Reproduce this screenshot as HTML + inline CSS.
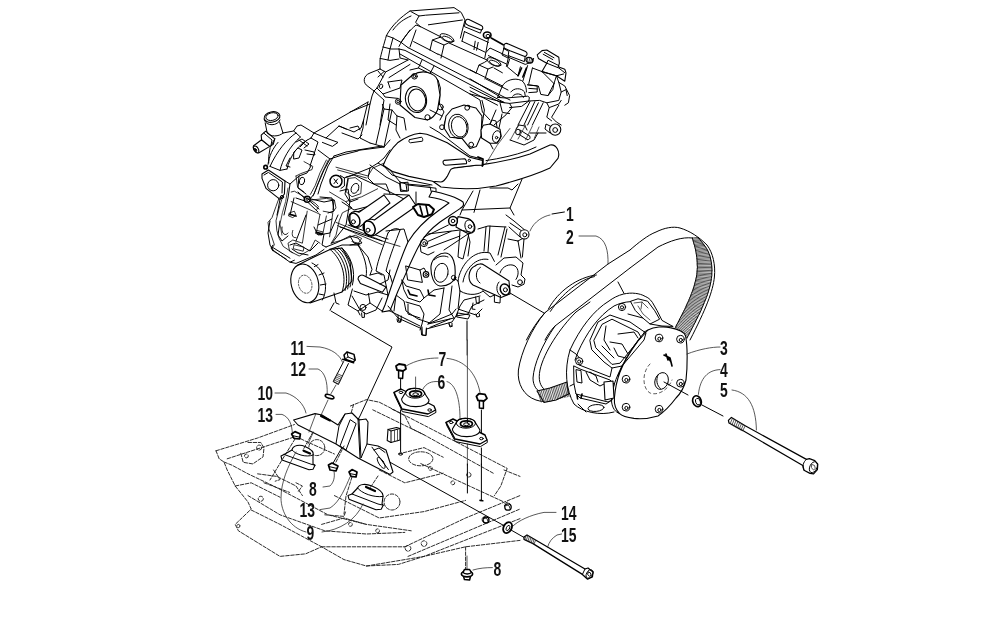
<!DOCTYPE html>
<html><head><meta charset="utf-8">
<style>
html,body{margin:0;padding:0;background:#fff;}
body{width:1000px;height:625px;overflow:hidden;font-family:"Liberation Sans",sans-serif;}
svg{display:block;position:absolute;left:0;top:0;}
.k path,.k polyline,.k line,.k circle,.k ellipse,.k rect,.k polygon{fill:none;stroke:#000;stroke-width:1.0;vector-effect:non-scaling-stroke;stroke-linecap:round;stroke-linejoin:round;}
.k .w{fill:#fff;stroke-width:1.1;}
.k .b{fill:#111;}
.k .thin path{stroke-width:0.8;}
.k .t{stroke-width:0.75;stroke:#222;}
.k .d{stroke:#222;stroke-width:0.95;stroke-dasharray:3.5 1.6;}
text{font-family:"Liberation Sans",sans-serif;font-weight:bold;font-size:20.5px;fill:#111;}
</style></head><body>
<svg class="k" width="1000" height="625" viewBox="0 0 1000 625">
<rect x="0" y="0" width="1000" height="625" style="fill:#fff;stroke:none"/>
<g transform="translate(350,0) scale(0.2)">
<!-- valve cover top-left box -->
<path d="M300,55 C255,85 210,125 182,178"/>
<path d="M300,55 L520,38 L556,62 L575,100 L562,150 L552,190"/>
<path d="M305,58 L345,80 L378,76 L545,64"/>
<path d="M392,124 L562,100"/>
<path d="M345,80 L328,112 L352,133"/>
<path d="M215,150 C240,115 270,95 305,80"/>
<path d="M182,178 L215,190 L255,212 L290,238"/>
<path d="M182,178 C170,220 155,270 150,300 L150,345"/>
<path d="M165,235 L205,245 L245,245"/>
<path d="M150,292 L200,302 L245,295"/>
<path d="M215,190 L200,245 L190,300"/>
<path d="M245,232 C265,190 300,150 330,125 L352,133"/>
<path d="M255,212 L300,150"/>
<!-- ridge lines -->
<path d="M352,133 L455,185"/>
<path d="M330,150 L300,235"/>
<path d="M318,208 L400,250"/>
<path d="M290,238 L760,480 L800,500"/>
<path d="M245,245 L275,252 L770,512"/>
<path d="M250,270 L600,470"/>
<path d="M245,245 L250,290 L290,300"/>
<!-- first cap block -->
<path d="M400,250 L412,200 L440,190 L455,185"/>
<path d="M412,200 L470,225 L455,290"/>
<path d="M470,225 L492,215"/>
<path d="M400,250 L440,272"/>
<ellipse cx="485" cy="190" rx="38" ry="16" transform="rotate(25 485 190)"/>
<ellipse cx="488" cy="196" rx="28" ry="10" transform="rotate(25 488 196)"/>
<path d="M495,215 L685,300"/>
<path d="M440,270 L630,365"/>
<!-- second cap block -->
<path d="M630,365 L645,325 L690,345 L675,395"/>
<path d="M645,325 L672,312 L690,300"/>
<path d="M690,345 L715,335"/>
<ellipse cx="720" cy="310" rx="38" ry="16" transform="rotate(25 720 310)"/>
<ellipse cx="723" cy="316" rx="28" ry="10" transform="rotate(25 723 316)"/>
<path d="M680,395 L790,450"/>
<!-- end cap -->
<!-- coil caps -->
<path class="w" d="M578,104 C582,94 592,94 600,100 L656,128 C668,134 666,148 655,150 L592,127 C578,122 574,112 578,104 Z"/>
<path d="M575,118 L572,133 L652,166 L658,150"/>
<path d="M572,158 L560,206"/>
<path d="M626,206 L620,248 M641,212 L633,251"/>
<path d="M572,158 L692,212"/>
<path d="M560,206 L674,260"/>
<path d="M692,194 L674,290"/>
<ellipse cx="686" cy="176" rx="19" ry="16" style="stroke-width:1.6"/>
<ellipse cx="690" cy="180" rx="10" ry="8"/>
<path d="M706,190 L766,224" style="stroke-width:1.6"/>
<path class="w" d="M770,227 C772,216 782,214 792,220 L878,257 C890,264 886,282 874,282 L800,254 L770,240 Z"/>
<path d="M767,242 L794,257 L791,278 L872,308 L876,282"/>
<path d="M770,240 L760,275 L790,290"/>
<path d="M794,278 L782,332"/>
<path d="M692,278 L782,320"/>
<path d="M680,262 L700,240 L790,282"/>
<!-- left boss & head -->
<path d="M150,345 L100,365 C65,378 62,415 90,432 L120,455 L110,480 L100,520 L85,600 L80,625"/>
<ellipse cx="155" cy="432" rx="8" ry="12" transform="rotate(20 155 432)"/>
<path d="M150,345 L178,360 L135,440 L120,455"/>
<path d="M140,355 L165,385 M170,358 L140,385"/>
<path d="M178,360 L290,300"/>
<path d="M195,388 L300,322"/>
<path d="M135,440 L165,470 L250,440 L260,400 L190,410"/>
<path d="M165,470 L175,485 L240,492"/>
<path d="M190,410 L200,440"/>
<circle cx="590" cy="540" r="14"/>
<circle cx="452" cy="535" r="14"/>
<path d="M300,350 L342,340 L400,368 L440,400 L452,440 L447,520"/>
<path d="M342,340 L360,300"/>
<path d="M400,368 L420,330"/>
<path d="M600,470 L650,500 L662,560 L700,600"/>
<path d="M490,605 C500,575 540,555 575,560 C600,565 615,585 620,610"/>
<path d="M470,625 C475,580 520,540 570,540 C610,540 640,570 650,610"/>
<path d="M447,520 L470,560 L450,600"/>
<path d="M100,520 L0,560"/>
<path d="M120,455 L170,500 L160,560 L150,625"/>
<path d="M200,520 L190,600 L230,625"/>
<path d="M600,470 L770,512"/>
</g>
<g>
<path class="w" d="M401,85 L412.5,75 C418,72 424,71.5 427.5,72.5 C433,74 436.5,77 437.5,80 L440,95 L437.5,110 C435,116 431,119 427.5,120 L415,117.5 L400,105 Z"/>
<ellipse cx="416" cy="99.5" rx="10.5" ry="13.2" transform="rotate(-12 416 99.5)"/>
<ellipse cx="417" cy="100" rx="8.6" ry="11" transform="rotate(-12 417 100)"/>
<circle cx="414.5" cy="76.3" r="2.8"/><circle cx="398.2" cy="101.5" r="2.8"/><circle cx="427.5" cy="117.3" r="2.6"/>
<circle cx="414.5" cy="76.3" r="1.3"/><circle cx="398.2" cy="101.5" r="1.3"/>
</g>
<g transform="translate(470,50) scale(0.12)">
<!-- end cap of valve cover -->
<path d="M0,165 L270,300"/>
<path d="M270,300 C290,255 370,225 430,255 C460,275 472,320 470,350"/>
<path d="M340,350 C365,315 425,312 455,350 L460,380"/>
<path d="M355,385 C380,355 432,360 445,395"/>
<path d="M230,395 L300,400 L480,385 L495,395 L490,425 L330,445 L250,435"/>
<path d="M270,300 L230,395"/>
<path d="M0,310 L240,430 M0,340 L230,460"/>
<path d="M0,240 L250,390"/>
<path d="M200,150 L270,190"/>
<!-- coil cap 2 -->
<path d="M320,60 L460,120 L520,100 L530,70"/>
<path d="M330,75 L310,140 L400,215 L420,140"/>
<path d="M400,215 L430,150 M440,225 L470,150" style="stroke-width:1.6"/>
<ellipse cx="495" cy="85" rx="30" ry="22" transform="rotate(20 495 85)" style="stroke-width:1.3"/>
<path class="t" d="M482,70 L474,98 M498,70 L490,104 M512,76 L506,104"/>
<path d="M480,130 L440,260 M520,150 L490,280"/>
<!-- connector -->
<path class="w" d="M560,40 L600,5 L640,0 L740,60 L745,110 L735,140 L790,160 L800,190 L790,260 L720,215 L600,180 L640,110 L570,70 Z"/>
<path d="M640,110 L650,85 L740,130"/>
<path d="M640,110 L740,150 L790,190"/>
<path d="M620,20 L700,65 M610,35 L690,80" />
<path d="M520,150 L600,180 L700,280 L650,380 L590,370 L570,300 L480,290"/>
<path d="M600,180 L720,215 L780,200"/>
<path d="M720,215 L700,280"/>
<path d="M720,215 L740,270 L790,300 L830,380 L820,440 L790,460"/>
<path d="M480,290 L560,300 L560,350 L490,355 M490,320 L560,325"/>
<path d="M740,270 L760,350 L740,420 L640,440 L580,420 L490,425"/>
<path d="M640,440 L660,480 L740,450 L760,420"/>
<path d="M760,350 L800,330 L810,380"/>
<path d="M650,380 L690,330 L700,280"/>
<!-- column lines -->
<path d="M500,430 L400,625 M540,430 L450,625 M570,440 L480,625 M610,440 L520,625"/>
<path d="M740,460 L680,560 L720,600 L760,625"/>
<path d="M660,480 L640,560 L680,590"/>
<path d="M100,420 L120,500 L100,625"/>
<path d="M250,440 L270,520 L330,530"/>
<path d="M0,480 L60,500 L100,560"/>
<path d="M330,445 L350,480 L300,540 L200,625"/>
<path d="M490,425 L430,470 L330,480"/>
</g>
<g transform="translate(230,90) scale(0.2)">
<!-- thermostat outlet -->
<ellipse class="w" cx="210" cy="135" rx="40" ry="26" transform="rotate(-12 210 135)"/>
<ellipse cx="210" cy="133" rx="31" ry="19" transform="rotate(-12 210 133)"/>
<path d="M171,148 C180,185 240,180 250,150"/>
<path d="M176,165 L186,215 M248,160 L265,215"/>
<path class="w" d="M158,249 L118,279 C112,290 125,312 143,315 L199,282 Z"/>
<ellipse class="w" cx="130.6" cy="297" rx="11" ry="19" transform="rotate(-32 130.6 297)"/>
<ellipse cx="127" cy="300" rx="5" ry="9" transform="rotate(-32 127 300)" class="b"/>
<path class="w" d="M156,226 L178.5,206 L224,244 L216,272 L199,282 L158,249 Z"/>
<path d="M170,216 L210,250 L205,276"/>
<path d="M224,244 L201,287 L193.6,332 L193.6,365"/>
<path d="M265,215 L318,205 L335,180 L355,175 L420,215 L405,240"/>
<path d="M186,215 C200,235 245,235 265,215"/>
<path d="M420,215 L690,60"/>
<path d="M330,215 C285,245 235,305 200,382"/>
<path d="M352,235 C295,285 262,350 250,402"/>
<path d="M405,240 C340,270 300,330 285,395"/>
<path d="M240,262 C215,290 195,330 190,372"/>
<path d="M318,205 L330,215 L352,235"/>
<path d="M330,260 L360,245 L395,270 L370,290 M345,250 L385,280 M385,250 L350,285"/>
<path d="M320,310 L340,290 L360,300 L345,340 L320,345 Z"/>
<path d="M300,340 L280,380 L300,385"/>
<path d="M375,300 L420,310 L425,325 L385,320"/>
<!-- flange -->
<path class="w" d="M160,420 L192,400 L275,455 L272,520 L250,547 L180,492 L160,442 Z"/>
<path d="M170,425 L192,412 L262,460 L260,515"/>
<circle cx="216" cy="476" r="28"/>
<circle cx="260" cy="535" r="8"/>
<circle cx="178" cy="386" r="9" style="stroke-width:1.6"/>
<path d="M200,382 L250,402 L285,395"/>
<path d="M250,547 L240,600 L235,625"/>
<path d="M275,455 L300,470 L290,540 L270,625"/>
<path d="M300,470 L345,430 L385,415 L405,380"/>
<path d="M320,540 L300,625"/>
<!-- top cover lines -->
<path d="M420,215 L480,240 L545,180 L582,196"/>
<path d="M480,240 L540,262 L512,282 L462,262"/>
<path d="M545,180 L620,210 L655,190 L668,150"/>
<path d="M560,215 L640,245 L660,225"/>
<path d="M600,190 L640,180 L650,200"/>
<path d="M690,60 L668,150 L665,190 L650,240 L700,265"/>
<path d="M770,95 L730,270 M810,100 L770,285"/>
<path d="M762,72 L770,95 L810,100 L835,130 L870,140 L880,200"/>
<path d="M640,302 L770,285 L800,250"/>
<path d="M520,330 L580,310 L760,280"/>
<path d="M500,345 L560,325 L640,305"/>
<path d="M500,345 L470,400 L440,470 L420,520 L400,545"/>
<path d="M520,330 L490,380 L455,470 L440,520"/>
<path d="M405,240 L440,260 L400,380"/>
<path d="M440,300 L500,345"/>
<!-- bolt -->
<circle cx="530" cy="456" r="30" style="stroke-width:1.5"/>
<path d="M552,428 L572,440 L572,480 L555,492"/>
<path d="M520,445 L538,468 M538,445 L520,468"/>
<path d="M572,440 L600,430 L700,390"/>
<ellipse cx="360" cy="455" rx="13" ry="19" transform="rotate(15 360 455)"/>
<ellipse cx="625" cy="492" rx="18" ry="26" transform="rotate(25 625 492)"/>
<path d="M590,440 L575,520 L600,560 L640,545"/>
<path d="M345,430 L340,490 L380,520"/>
<!-- sensor -->
<circle cx="386" cy="546" r="15" style="stroke-width:1.5"/>
<circle cx="386" cy="546" r="6"/>
<path d="M398,555 L445,595 M390,562 L440,610 M405,545 L470,560 L520,550 L515,600"/>
<path d="M372,540 L340,510 M375,555 L330,540"/>
<!-- shield / right -->
<path d="M700,390 L740,365 L800,400 L850,460 L880,470 L1000,480"/>
<path d="M800,300 L770,340 L740,365"/>
<path d="M700,265 L770,285"/>
<path d="M850,460 L855,500 L885,505 L880,470"/>
<path d="M700,390 L690,440 L720,470 L780,470 L800,520"/>
<path d="M560,560 L620,600 L700,580 L780,560"/>
<path d="M600,625 L660,600 L720,610"/>
<path d="M835,130 L830,200 L850,240"/>
</g>
<g transform="translate(430,90) scale(0.2)">
<!-- column dashed lines -->
<path d="M0,100 L60,130"/>
<path d="M0,185 L50,215 L200,330 L260,345"/>
<path d="M0,232 L150,332"/>
<path d="M330,100 L300,170"/>
<path d="M360,120 L345,190"/>
<!-- port 2 flange -->
<path class="w" d="M80,130 L110,95 L170,75 L230,90 L260,130 L255,230 L232,282 L200,292 L160,242 L100,236 L70,190 Z"/>
<ellipse cx="142" cy="182" rx="48" ry="62" transform="rotate(-15 142 182)"/>
<ellipse cx="146" cy="184" rx="38" ry="52" transform="rotate(-15 146 184)"/>
<circle cx="186" cy="89" r="12"/>
<circle cx="60" cy="186" r="12"/>
<circle cx="206" cy="273" r="12"/>
<!-- sensor cyl -->
<path class="w" d="M255,200 L266,176 L300,170 L350,196 L356,232 L336,266 L300,266 L258,240 Z"/>
<ellipse cx="333" cy="233" rx="20" ry="30" transform="rotate(15 333 233)"/>
<circle cx="333" cy="238" r="6"/>
<path d="M300,170 L310,150 L330,155 L335,185"/>
<path d="M300,266 L315,295"/>
<!-- right bolt -->
<circle class="w" cx="626" cy="198" r="28"/>
<circle cx="626" cy="200" r="12"/>
<path d="M600,180 L580,170 L575,195 L600,215"/>
<ellipse cx="440" cy="210" rx="12" ry="14"/>
<path d="M450,200 L498,230 M445,222 L487,248 M498,230 C505,240 497,250 487,248"/>
<path d="M430,195 L445,175 L475,180 L485,200"/>
<path d="M500,215 L580,215"/>
<path d="M400,250 L470,275 L520,250 L540,215"/>
<path d="M215,505 L160,600 L150,625"/>
<path d="M250,500 L220,612"/>
<path d="M460,446 L400,590 L420,625"/>
<path d="M300,490 L390,490 L410,500 L440,470"/>
<path d="M610,620 L672,610"/>
<path d="M160,600 L400,590"/>
<path class="t" d="M400,192 L336,276 L280,368 M445,170 L402,250 M478,175 L440,245 M512,180 L478,250 M545,185 L522,240"/>
</g>
<g>
<!-- exhaust pipe + heat shield overlay (src coords) -->
<path class="w" d="M484,164.4 C500,162 515,159 530,154 L550,145 C556.4,143.6 560.4,152 558,158.4 L550,168 C535,175 515,181 496,186 C480,189 460,189.5 441,187 L432.8,181.2 L450,168 Z"/>
<path d="M486,160.6 C500,158.5 514,155.5 528,150.5 L536,147"/>
<path class="w" d="M383.2,165.2 C386,158 392,148 397.6,142.8 C404,138 412,134 420,133.2 C426,133.5 430,135 432.8,136.4 L447.2,142.8 L469.6,157.2 L482.4,160.4 L483.2,165.2 L476,165.2 L456.8,167.6 C452,168 451,169 450.4,170 L447.2,176.4 C445,180 443,182 440.8,182 L432.8,181.2 L408.8,176.4 L392.8,171.6 Z"/>
<path d="M409.6,139.6 L421.6,137.2 C423,138.5 423,140 422.4,141.2 L410.4,142.8 C408.6,142.4 408.4,140.4 409.6,139.6 Z"/>
<path class="w" d="M444,160.4 L464.8,158.8 C466.6,160 466.8,162.6 466.4,163.6 L445.6,165.2 C442.6,164.8 442.4,161 444,160.4 Z"/>
<circle cx="469.3" cy="160.4" r="1.2"/>
<path d="M478,157 L483,159 L482.4,166" style="stroke-width:1.8"/>
<path d="M383.2,165.2 L392,175 L408,180 L432,185"/>
</g>
<g transform="translate(230,215) scale(0.2)">
<!-- left cover -->
<path d="M200,30 L190,90 L200,150 L215,176 L300,236 L322,226"/>
<path d="M215,150 L205,165 L215,180 M210,160 L300,216"/>
<path d="M250,30 L240,100 L260,130 L290,105"/>
<path d="M300,150 L330,140 L400,180 L420,160 L440,140"/>
<path d="M310,170 L340,190 L390,200"/>
<path d="M420,60 L440,100 L470,95 L460,150 L480,160"/>
<path d="M380,0 L330,130 M540,0 L500,90 L470,95 M440,50 L510,20"/>
<path d="M480,160 L530,140 L600,105 L640,115 L660,140 L600,150"/>
<path d="M550,60 L760,130 M590,50 L770,115"/>
<path d="M300,236 L330,242 L430,200 L470,172"/>
<path d="M260,60 C255,90 275,110 290,90"/>
<path d="M600,0 L640,15 L700,0"/>
<!-- oil filter -->
<path class="w" d="M340,250 L420,210 L500,172 L560,165 L600,230 L610,330 L560,385 L480,412 L400,440 Z"/>
<ellipse class="w" cx="374" cy="342" rx="68" ry="98" transform="rotate(-14 374 342)"/>
<ellipse class="t" cx="376" cy="346" rx="33" ry="46" transform="rotate(-14 376 346)" style="stroke-dasharray:2 1.5"/>
<path d="M410,240 C465,265 500,355 462,425"/>
<path d="M422,258 L440,248 M445,300 L470,290 M452,350 L480,345 M445,395 L470,400"/>
<path d="M500,172 C550,210 590,300 560,385"/>
<path d="M515,168 C565,205 600,295 575,378"/>
<path d="M530,166 C578,200 610,290 588,370"/>
<path d="M545,165 C590,200 622,285 600,360"/>
<path d="M560,165 C602,200 632,280 612,350"/>
<!-- mount -->
<path d="M500,172 L560,150 L640,150 L690,210 L710,272 L700,300"/>
<path d="M600,105 L620,140 L650,150"/>
<path d="M640,150 C670,200 690,260 680,310"/>
<path class="w" d="M640,320 C640,300 660,298 668,302 L780,360 L762,386 L652,342 Z"/>
<path d="M520,390 L530,440 L545,446 M500,476 L520,440"/>
<path d="M505,480 L750,625"/>
<path d="M612,370 L590,450 L640,480 L700,440 L692,392"/>
<circle cx="665" cy="462" r="15"/>
<path d="M658,490 L660,512 L672,512 L672,488"/>
<path d="M700,440 L760,480 L790,462"/>
<path d="M640,480 L650,500"/>
<path d="M700,300 L740,290 L760,300"/>
<path d="M620,380 L680,400 L740,385"/>
<!-- coolant pipe -->
<path d="M790,90 C770,150 740,220 730,280 L770,300 L790,400 L780,470"/>
<path d="M850,75 C830,130 800,200 780,280 L800,300 L830,400 L820,480"/>
<path d="M790,90 C800,70 840,60 850,75"/>
<path d="M770,115 L790,120"/>
<!-- right lower bits -->
<path d="M830,400 L870,430 L880,480 L940,520 L1000,540"/>
<path d="M840,500 L842,530 L856,532 L856,505"/>
<path d="M960,560 L962,600 L980,602 L982,565"/>
<path d="M780,470 L840,500 L950,555"/>
<path d="M740,385 L790,400"/>
</g>
<g transform="translate(430,215) scale(0.2)">
<!-- leader 1 -->
<path class="t" d="M500,80 C520,30 570,5 600,0"/>
<circle class="w" cx="472" cy="97" r="23"/>
<circle cx="474" cy="99" r="10"/>
<path d="M400,40 L456,78 M440,130 L462,118 M395,60 L450,110"/>
<path d="M380,0 L420,30 L470,72"/>
<path d="M280,60 L270,180 M300,55 L290,185 M375,60 L340,200 M385,70 L355,210"/>
<path d="M240,70 L290,55 L380,60 M390,120 L440,130"/>
<path d="M440,130 L455,215"/>
<path d="M470,120 L462,210"/>
<!-- bearing housing -->
<path d="M140,330 C150,250 220,170 300,190 L322,232"/>
<path d="M165,335 C175,270 230,210 290,222"/>
<path d="M150,380 C200,410 250,395 265,380"/>
<path d="M140,330 L150,380"/>
<!-- shaft -->
<path class="w" d="M225,255 C240,240 262,244 270,250 L395,330 L400,395 L355,412 L215,350 C185,330 190,270 225,255 Z"/>
<path d="M252,262 C225,275 225,325 250,340"/>
<ellipse class="w" cx="375" cy="372" rx="23" ry="28" transform="rotate(-20 375 372)" style="stroke-width:1.5"/>
<circle cx="377" cy="374" r="10"/>
<path d="M345,335 C330,350 330,385 348,400"/>
<path d="M400,390 L570,490"/>
<!-- right lobe -->
<path d="M330,250 L370,215 L430,210 L465,240 L455,300 L475,320 L470,346 L440,360 L410,350"/>
<path d="M350,290 C360,255 400,240 425,255 C445,270 445,300 430,322"/>
<circle cx="450" cy="336" r="12"/>
<!-- left lobes -->
<path d="M100,300 L140,330"/>
<circle cx="118" cy="318" r="10"/>
<!-- lower -->
<path d="M228,410 L232,440 L246,442 L246,412"/>
<path d="M322,400 L322,436 L350,440 L352,402"/>
<path d="M215,440 L210,470 L225,472"/>
<path d="M95,545 L100,560 L112,556"/>
<path d="M140,490 L200,500 L190,520 L135,510 Z"/>
<path class="t" d="M185,530 L185,625"/>
<path d="M0,540 L110,495 L130,470 M0,562 L100,520"/>
<path d="M150,380 L140,470 L230,500 L260,470"/>
<path d="M265,380 L300,410 L322,400"/>
<!-- belt -->
<path d="M1000,175 L890,245 L575,488 C540,525 505,580 482,625"/>
<path d="M1000,265 L625,555 C605,575 588,600 575,625"/>
<path d="M592,470 C640,380 740,310 832,300"/>
<path d="M602,482 C660,392 750,322 822,308"/>
<path d="M940,335 L970,392"/>
<!-- leader 2 -->
<path class="t" d="M745,105 L830,105 C880,120 892,180 890,245"/>
</g>
<g transform="translate(630,215) scale(0.2)">
<path d="M0,175 C40,140 90,100 130,85 C170,65 215,55 250,65 C300,80 345,110 385,150 C415,190 428,250 422,310 C415,380 380,470 300,625"/>
<path d="M0,265 L140,160 C200,130 260,108 312,115"/>
<path d="M312,115 L315,127 L318,139 L322,151 L325,163 L328,175 L330,187 L332,199 L334,212 L335,224 L336,236 L336,249 L337,261 L336,273 L335,286 L334,298 L332,310 L329,322 L326,334 L323,346 L320,358 L316,370 L312,382 L307,393 L303,405 L298,416 L293,428 L288,439 L283,450 L278,462 L273,473 L267,484 L262,495 L256,506 L250,517 L245,528 L239,539 L233,550 L228,561 L222,572"/>
<path d="M340,112 L349,123 L358,134 L367,145 L375,156 L383,168 L390,180 L395,193 L400,206 L403,220 L406,233 L408,247 L409,261 L410,275 L409,289 L409,303 L407,317 L405,331 L402,345 L399,359 L395,372 L391,386 L387,399 L382,412 L377,425 L371,438 L366,451 L360,464 L355,477 L349,490 L343,502 L336,515 L330,528 L324,540 L317,553 L311,565 L304,578 L298,590 L291,603 L285,615"/>
<path class="t" style="stroke-width:0.7;stroke:#111" d="M312,115 L340,112 M314,121 L345,118 M315,128 L349,124 M317,134 L354,129 M319,140 L359,135 M321,147 L363,141 M322,153 L368,147 M324,159 L372,152 M326,165 L377,158 M327,172 L381,165 M328,178 L385,171 M330,185 L388,177 M331,191 L391,184 M332,197 L394,191 M333,204 L397,198 M334,210 L400,205 M334,217 L402,212 M335,223 L403,219 M335,230 L405,226 M336,236 L406,234 M336,243 L407,241 M336,249 L408,248 M337,256 L409,256 M337,262 L409,263 M336,269 L409,270 M336,276 L410,278 M335,282 L409,285 M335,289 L409,293 M334,295 L409,300 M333,301 L408,307 M332,308 L408,315 M331,314 L407,322 M329,321 L405,329 M328,327 L404,337 M327,333 L403,344 M325,340 L401,351 M323,346 L399,358 M321,352 L397,366 M319,359 L395,373 M317,365 L393,380 M315,371 L391,387 M313,377 L388,394 M311,383 L386,401 M309,389 L383,408 M307,396 L381,415 M304,402 L378,422 M302,408 L375,428 M299,414 L373,435 M297,420 L370,442 M294,426 L367,449 M292,432 L364,456 M289,438 L361,463 M286,444 L358,469 M284,450 L355,476 M281,456 L352,483 M278,461 L349,490 M275,467 L346,496 M272,473 L342,503 M270,479 L339,510 M267,485 L336,516 M264,491 L332,523 M261,497 L329,529 M258,502 L326,536 M255,508 L322,543 M252,514 L319,549 M249,520 L316,556 M246,526 L312,562 M243,531 L309,569 M240,537 L305,576 M237,543 L302,582 M234,549 L299,589 M231,555 L295,595 M228,560 L292,602 M225,566 L288,608 M222,572 L285,615"/>
</g>
<g transform="translate(510,300) scale(0.2)">
<!-- belt left loop -->
<path d="M175,63 C110,140 55,260 42,350 C35,420 70,480 130,500 C180,518 240,500 292,470"/>
<path d="M225,130 C160,225 120,320 115,390 C115,430 135,455 160,465"/>
<path d="M400,10 L330,60 C250,140 170,260 150,350 C140,400 150,430 175,450"/>
<path d="M135,455 L200,440 L285,410 L292,470 L230,500 L170,512 Z" class="w"/>
<path class="t" d="M140,458 L156,510 M148,456 L164,508 M156,453 L172,507 M165,451 L181,505 M173,448 L189,504 M181,446 L197,502 M189,444 L205,500 M197,441 L213,499 M206,439 L222,497 M214,436 L230,496 M222,434 L238,494 M230,432 L246,492 M238,429 L254,491 M247,427 L263,489 M255,424 L271,488 M263,422 L279,486 M271,420 L287,484 M279,417 L295,483 M288,415 L304,481"/>
<!-- sheave -->
<path class="w" style="stroke:none" d="M400,78 C430,45 460,20 484,6 C520,-15 545,-25 568,-30 C590,-35 610,-36 628,-33 C650,-30 665,-25 676,-18 C695,-5 705,2 712,12 L736,54 L760,102 L814,132 L870,165 L885,250 L880,400 L830,480 L740,580 L520,560 C450,580 360,560 320,520 C280,450 270,350 300,250 C330,170 370,110 400,78 Z"/>
<path d="M814,132 L760,102 L736,54 L712,12 C700,-5 690,-12 676,-18 C660,-27 645,-31 628,-33 C608,-36 588,-34 568,-30 C540,-23 515,-10 495,5 C420,50 350,140 300,250 C270,350 280,450 320,520 C360,560 450,580 520,560"/>
<path d="M604,8 C570,10 545,18 520,30 C440,80 380,170 340,260 L325,300"/>
<!-- cover plate -->
<path class="w" d="M690,150 C720,135 770,130 800,138 C840,145 870,155 878,180 C888,230 888,330 880,400 C870,440 850,470 830,490 C800,530 770,560 740,580 C700,592 650,595 620,592 C590,588 560,580 548,568 C525,545 520,520 522,490 C525,450 535,400 550,360 C570,310 600,260 640,205 Z"/>
<path d="M672,162 C630,210 590,270 560,330 C530,390 505,450 508,510 C512,540 525,560 548,568"/>
<path d="M690,150 L670,160"/>
<g style="stroke-width:2">
<circle cx="745" cy="190" r="19"/><circle cx="852" cy="196" r="19"/><circle cx="580" cy="396" r="19"/>
<circle cx="852" cy="416" r="19"/><circle cx="580" cy="536" r="19"/><circle cx="745" cy="546" r="19"/>
<circle cx="560" cy="35" r="18"/><circle cx="346" cy="306" r="18"/>
</g>
<circle cx="747" cy="194" r="8"/><circle cx="854" cy="200" r="8"/><circle cx="582" cy="400" r="8"/>
<circle cx="854" cy="420" r="8"/><circle cx="582" cy="540" r="8"/><circle cx="747" cy="550" r="8"/>
<circle cx="560" cy="37" r="8"/><circle cx="346" cy="308" r="8"/>
<ellipse cx="758" cy="405" rx="33" ry="43" transform="rotate(20 758 405)"/>
<path d="M740,375 C728,400 735,430 752,442"/>
<path class="t" style="stroke-dasharray:3 3" d="M700,320 C660,360 660,440 700,465 C740,480 790,450 810,400"/>
<path d="M770,275 L800,290 L810,330 M780,270 L790,300 M790,285 L805,310" style="stroke-width:1.6"/>
<path d="M770,410 L890,475"/>
<ellipse cx="935" cy="506" rx="21" ry="28" transform="rotate(-20 935 506)" style="stroke-width:1.6"/>
<ellipse cx="940" cy="508" rx="12" ry="17" transform="rotate(-20 940 508)"/>
<!-- upper window -->
<path d="M400,200 L440,110 L500,75 L600,110 L680,165 L670,200 L560,330 L510,340 L470,310 L410,250 Z"/>
<path d="M420,200 L460,122 L510,96 L640,160 L655,186 L550,316 L510,322 L430,240 Z"/>
<path d="M480,130 L470,200 L500,250 M540,170 L620,160 L640,190 M500,210 L560,220 L590,270 M460,230 L520,290"/>
<path d="M520,240 L540,280 L580,290"/>
<path d="M560,330 L540,380"/>
<!-- tower -->
<path d="M604,6 L640,-6 L688,6 L724,54 L748,96 L700,120 L664,90 L628,54 Z"/>
<path d="M620,15 L660,10 L690,40 M640,30 L665,70 L700,100 M660,10 L655,45" class="t"/>
<path d="M700,120 L760,130 L814,132"/>
<path d="M590,70 L664,90"/>
<!-- lower window -->
<path d="M320,330 L350,345 L500,400 L520,420 L510,500 L490,510 L330,470 L320,420 Z"/>
<path d="M330,350 L335,410 L360,415 L355,355 Z"/>
<path d="M380,360 L400,400 L450,430 L470,420"/>
<path d="M400,360 L430,380 L440,410"/>
<path class="w" d="M470,410 L515,405 L520,490 L475,500 Z"/>
<path d="M330,470 L350,490 L480,520 L510,500"/>
<ellipse cx="430" cy="540" rx="40" ry="17" transform="rotate(-5 430 540)"/>
<path d="M340,520 L380,560"/>
<path d="M346,325 L500,385 L510,340"/>
<path d="M300,250 L330,270 L346,288"/>
<path d="M320,420 L300,430"/>
<path d="M360,470 L355,490 M335,475 L338,495" style="stroke-width:1.6"/>
</g>
<g transform="translate(200,390) scale(0.32)">
<g class="dd">
<path class="d" d="M50,190 L180,150 L295,108"/>
<path class="d" d="M50,190 L60,215 L75,225 L85,250 L110,300 L150,350 L160,372 L110,420 L120,440 L250,520 L330,512 L380,490 L450,530 L520,550 L620,545 L700,520 L830,490 L1000,470"/>
<path class="d" d="M85,215 L300,145"/>
<path class="d" d="M150,164 L190,164 L200,181 L197,209 L165,231 L135,226 L127,196"/>
<circle class="d" cx="145" cy="206" r="6"/>
<path class="d" d="M75,225 L100,235 L150,262 L230,300 L400,390 L520,420 L660,440"/>
<path class="d" d="M150,330 L250,390 L390,440 L520,450 L640,445"/>
<path class="d" d="M110,300 L160,290 L250,335"/>
<path class="d" d="M470,50 L520,30 L560,38 L700,110 L960,245 L940,300 L920,330"/>
<path class="d" d="M540,62 L700,140 L920,262"/>
<path class="d" d="M640,490 L830,400 L1000,330"/>
<path class="d" d="M650,520 L1000,372"/>
<path class="d" d="M520,550 L700,520 L1000,402"/>
<path class="d" d="M380,490 L640,490"/>
<path class="d" d="M160,375 L250,420 L380,490"/>
<path class="d" d="M620,200 L700,180 L760,210"/>
<path class="d" d="M690,230 L950,350"/>
<path class="d" d="M480,45 L470,80 L520,100"/>
<path class="d" d="M600,60 L640,80 L660,120 L700,140"/>
<path class="d" d="M300,145 L330,160 L420,200"/>
<path class="d" d="M420,330 L560,400 L700,380 L830,345"/>
<path class="d" d="M560,250 L640,290 L760,260"/>
<path class="d" d="M380,420 L450,400 L520,420"/>
<path class="d" d="M950,250 L1000,270"/>
<path class="d" d="M830,490 L830,560"/>
<circle class="d" cx="365" cy="180" r="25"/>
<circle class="d" cx="600" cy="350" r="25"/>
<ellipse class="d" cx="690" cy="215" rx="38" ry="22"/>
<circle class="d" cx="185" cy="180" r="8"/><circle class="d" cx="190" cy="340" r="8"/>
<circle class="d" cx="650" cy="495" r="9"/><circle class="d" cx="700" cy="480" r="9"/>
<circle class="d" cx="890" cy="405" r="9"/><circle class="d" cx="960" cy="360" r="9"/>
<circle class="d" cx="840" cy="265" r="7"/><circle class="d" cx="790" cy="290" r="6"/><circle class="d" cx="720" cy="245" r="6"/>
<circle class="d" cx="555" cy="440" r="6"/><circle class="d" cx="470" cy="420" r="6"/><circle class="d" cx="120" cy="425" r="5"/>
<path class="d" d="M180,262 L240,270 L300,300 L320,330 M200,290 L280,320 M230,250 L250,280 L235,285 M300,290 L320,300 L305,320"/>
<path class="d" d="M390,390 L450,395 L455,380"/>
</g>
<!-- long centre line -->
<path d="M569,212 L961,430"/>
</g>
<g>
<path class="w" d="M388,429.5 L396.5,427.5 L400,428.5 L400,440 L391,442.5 L387.2,440.5 Z"/>
<path d="M391,431 L391,442.5 M388,429.5 L391,431 L400,428.5"/>
<path class="t" d="M394.5,430.2 L394.5,441.6 M397.5,429.4 L397.5,440.8"/>
</g>
<g transform="translate(200,340) scale(0.2)">
<!-- bolt 11 -->
<path class="w" d="M720,75 L735,60 L770,72 L776,100 L766,110 L725,96 Z" style="stroke-width:1.5"/>
<path d="M735,60 L740,85 L776,100 M740,85 L725,96"/>
<path d="M714,96 L768,114" style="stroke-width:1.6"/>
<path d="M718,108 L666,208 L692,222 L742,118"/>
<path class="t" d="M686,168 L712,180 M682,176 L708,188 M678,184 L704,196 M674,192 L700,204 M670,200 L696,212 M667,207 L692,220"/>
<path class="t" d="M680,225 L655,268"/>
<ellipse cx="648" cy="283" rx="23" ry="9" transform="rotate(18 648 283)" style="stroke-width:1.5"/>
<path class="t" d="M640,300 L610,365 L540,520"/>
<!-- leaders -->
<path class="t" d="M535,32 L600,35 C660,45 700,75 712,110"/>
<path class="t" d="M545,145 L590,145 C625,160 638,210 636,268"/>
<path class="t" d="M375,265 L430,265 C480,280 520,320 530,365"/>
<path class="t" d="M380,372 L410,372 C445,385 460,420 462,468"/>
<!-- long line -->
<path d="M900,0 L960,35 L800,380 L660,625"/>
</g>
<g transform="translate(270,400) scale(0.2)">
<!-- bracket 10 -->
<path class="w" d="M118,100 L225,68 L260,75 L340,125 L375,70 L410,65 L440,95 L445,100 L480,95 L490,110 L485,220 L540,230 L580,250 L615,360 L600,372 L440,290 L330,220 L140,125 Z"/>
<path class="t" d="M228,72 L195,160"/>
<path d="M255,80 L300,102" style="stroke-width:2.2"/>
<path d="M375,70 L345,130 L330,218"/>
<path d="M400,100 L350,230 L380,250 L430,120 Z"/>
<path d="M440,95 L450,292"/>
<path d="M445,100 L455,290 L485,220"/>
<path d="M510,236 L592,348"/>
<ellipse cx="556" cy="314" rx="12" ry="32" transform="rotate(-32 556 314)"/>
<path d="M520,250 L545,240 L575,262"/>
<!-- mount 9 left -->
<path class="w" d="M55,280 L70,272 L110,250 C115,225 150,222 175,232 C205,245 220,262 215,275 L215,320 L225,326 L215,346 L195,349 L60,300 Z"/>
<path d="M110,250 C125,270 180,290 215,275"/>
<path d="M70,272 L205,321 L225,326"/>
<path d="M168,254 L200,268" style="stroke-width:2.2"/>
<!-- mount 9 right -->
<path class="w" d="M390,478 L410,470 L438,440 C445,418 480,418 510,430 C545,445 568,465 565,482 L560,520 L566,526 L556,546 L530,549 L395,496 Z"/>
<path d="M438,440 C455,465 520,490 565,482"/>
<path d="M410,470 L540,520 L566,526"/>
<path d="M480,435 L525,455" style="stroke-width:2.2"/>
<!-- nuts -->
<path class="w" style="stroke-width:1.7" d="M108,170 L125,158 L152,170 L148,195 L120,192 Z"/>
<path d="M112,178 L148,186"/>
<path class="w" style="stroke-width:1.7" d="M292,325 L310,315 L340,330 L330,355 L300,350 Z"/>
<path d="M296,333 L334,342"/>
<path class="w" style="stroke-width:1.7" d="M395,360 L410,348 L435,360 L430,385 L405,382 Z"/>
<path d="M399,368 L432,374"/>
<!-- dashed leaders -->
<path class="d" d="M125,195 L60,300 L0,400"/>
<path class="d" d="M215,160 L165,250"/>
<path class="d" d="M330,310 L370,230"/>
<path class="d" d="M410,385 L380,480 L370,570"/>
<path class="d" d="M540,380 L500,440"/>
<path class="t" d="M265,435 L300,430 C320,410 325,385 320,355"/>
<path class="t" d="M250,548 L300,540 C350,510 380,430 400,385"/>
<!-- small box -->
</g>
<g transform="translate(380,340) scale(0.2)">
<path class="t" d="M437,0 L437,395 M437,520 L437,625"/>
<!-- bolt 7 left -->
<path class="w" style="stroke-width:1.8" d="M80,130 L95,120 L125,125 L130,145 L115,155 L85,150 Z"/>
<path style="stroke-width:1.5" d="M93,155 L93,190 L113,192 L115,158"/>
<path d="M103,195 L103,255 M103,350 L103,560"/>
<ellipse cx="103" cy="570" rx="9" ry="6"/>
<!-- mount 6 left -->
<path class="w" d="M70,262 L105,245 L270,330 L278,350 L240,370 L110,345 Z" style="stroke-width:1.4"/>
<path class="w" d="M108,295 L128,262 C135,235 215,235 222,265 L245,300 C245,345 110,345 108,295 Z"/>
<ellipse cx="176" cy="266" rx="48" ry="25"/>
<ellipse cx="178" cy="269" rx="30" ry="15" style="stroke-width:1.8"/>
<ellipse cx="178" cy="271" rx="14" ry="7"/>
<ellipse cx="105" cy="262" rx="9" ry="6"/><ellipse cx="248" cy="350" rx="9" ry="6"/>
<path class="t" d="M178,185 L178,262"/>
<path d="M70,262 L73,276 L112,358 L242,383 L280,362 L278,350"/>
<path d="M330,412 L333,426 L377,508 L502,533 L537,512 L535,500"/>
<!-- leaders -->
<path class="t" d="M130,130 C180,100 240,90 290,90"/>
<path class="t" d="M335,92 C420,100 480,160 500,262"/>
<path class="t" d="M215,245 C230,215 260,205 290,208"/>
<path class="t" d="M335,208 C380,220 400,300 400,392"/>
<!-- bolt 7 right -->
<path class="w" style="stroke-width:1.8" d="M482,282 L495,268 L525,272 L535,292 L520,305 L490,302 Z"/>
<path style="stroke-width:1.5" d="M497,305 L497,340 L517,342 L517,308"/>
<path d="M507,350 L507,482 M507,540 L507,625"/>
<!-- mount 6 right -->
<path class="w" d="M330,412 L365,395 L525,475 L535,500 L500,520 L375,495 Z" style="stroke-width:1.4"/>
<path class="w" d="M362,445 L382,412 C390,385 470,385 478,415 L500,450 C500,495 365,495 362,445 Z"/>
<ellipse cx="430" cy="416" rx="48" ry="25"/>
<ellipse cx="432" cy="419" rx="30" ry="15" style="stroke-width:1.8"/>
<ellipse cx="432" cy="421" rx="14" ry="7"/>
<ellipse cx="356" cy="412" rx="9" ry="6"/><ellipse cx="507" cy="493" rx="9" ry="6"/>
<path d="M437,395 L437,415"/>
</g>
<g transform="translate(440,470) scale(0.2)">
<path d="M137,-30 L137,115 M207,-30 L207,150"/>
<path d="M200,152 L214,154" style="stroke-width:1.6"/>
<path d="M355,300 L425,340"/>
<ellipse class="w" cx="338" cy="288" rx="20" ry="29" transform="rotate(28 338 288)" style="stroke-width:1.8"/>
<ellipse cx="340" cy="290" rx="8" ry="14" transform="rotate(28 340 290)"/>
<path class="w" d="M420,335 L435,325 L478,350 L725,495 L740,490 L765,510 L762,535 L738,546 L712,522 L465,368 L420,347 Z" style="stroke-width:1.3"/>
<path class="t" d="M430,330 L424,347 M438,332 L432,351 M446,336 L440,355 M454,340 L448,359 M462,344 L456,363 M470,348 L464,367 M478,352 L470,370"/>
<ellipse cx="748" cy="520" rx="15" ry="23" transform="rotate(28 748 520)"/>
<path d="M742,510 L752,514 L756,526 L748,532 L740,524 Z"/>
<path d="M725,495 L712,522"/>
<path class="t" d="M580,212 L520,212 C450,225 390,255 365,280"/>
<path class="t" d="M608,320 L585,325 C560,340 545,360 538,385"/>
<!-- nut 8 -->
<path class="t" d="M135,430 L135,495"/>
<ellipse class="w" cx="135" cy="520" rx="28" ry="14" style="stroke-width:1.7"/>
<path class="w" d="M115,512 L122,498 L148,498 L157,512 C150,522 122,522 115,512 Z" style="stroke-width:1.5"/>
<path d="M118,532 L122,548 L148,550 L152,534" style="stroke-width:1.5"/>
<path class="t" d="M165,500 C200,490 230,488 262,488"/>
<circle class="w" cx="340" cy="185" r="16" style="stroke-width:1.3"/>
<circle class="w" cx="230" cy="250" r="15" style="stroke-width:1.3"/>
<path d="M332,178 C340,172 350,180 348,190 M222,243 C230,237 240,245 238,255"/>
</g>
<g transform="translate(660,330) scale(0.2)">
<path class="t" d="M135,120 C200,95 260,85 300,85"/>
<path class="t" d="M300,198 C240,200 200,240 192,322"/>
<path class="t" d="M360,300 C440,310 480,380 482,500"/>
<path d="M210,375 L315,430"/>
</g>
<g>
<!-- bolt 5 -->
<path class="w" style="stroke-width:1.2" d="M728.4,420.4 L731.4,417.4 L745.2,425.8 L806.4,459.4 L809.4,458.6 L814.8,460.6 L817.8,464.2 L817.4,469.6 L813.6,473.8 L810,473.4 L804,470.2 L802.8,465.4 L742.8,430.6 L729,423 Z"/>
<path class="t" d="M732.5,418.2 L730.2,423.6 M734.3,419.3 L732,424.8 M736.1,420.4 L733.8,425.9 M737.9,421.5 L735.6,427 M739.7,422.6 L737.4,428 M741.5,423.7 L739.2,429 M743.3,424.8 L741,430 M745.2,425.8 L742.8,430.6"/>
<ellipse cx="813.4" cy="467.2" rx="3.6" ry="5.8" transform="rotate(25 813.4 467.2)"/>
<path class="t" d="M812,464.5 L814.5,465.5 L815.3,468.5 L813.5,470 L811.7,468 Z"/>
<path d="M806.4,459.4 C803,462 802,467 804,470.2"/>
</g>
<g class="thin" transform="translate(240,160) scale(0.16)">
<path d="M245,235 L225,290 L200,360 L175,390 L180,430 L195,470 L215,530 L200,550 L210,570 L290,620"/>
<path d="M265,235 L245,300 L225,380 L230,440 L245,490 L270,540 L330,580"/>
<path class="t" d="M300,175 L285,260 L265,330 L250,400 L262,470"/>
<path d="M320,200 L340,195 L470,270 L490,290 L480,310"/>
<path d="M320,260 L480,330 L500,340"/>
<path d="M350,100 L380,85 L450,60 L455,40 L400,10"/>
<path d="M350,100 L360,170 L400,200"/>
<path d="M540,0 L500,80 L470,160 L440,215 M552,0 L512,85 L457,225"/>
<path d="M445,250 L540,240 L590,250 L600,300 L575,330 L520,320"/>
<path d="M680,115 L720,110 L760,140 L755,210 L700,230 L665,200 Z"/>
<path d="M600,45 L800,100 L830,50 L900,20 M610,62 L790,112"/>
<path d="M560,200 L660,260 L700,300 L640,330 L620,380 L600,470 L570,520"/>
<path d="M660,260 L760,230 L860,180"/>
<path d="M310,330 L340,320 L350,345 L330,360 L305,350 Z"/>
<path d="M312,340 L350,350 M478,452 L515,462" style="stroke-width:1.8"/>
<path d="M480,440 L520,450 L510,470 L475,460 Z"/>
<path d="M420,320 L390,520 L330,500 L300,520 L310,570 L370,600 L440,560 L470,500 L500,520"/>
<path d="M500,340 L480,440 M540,350 L520,450 M580,330 L560,480"/>
<path d="M600,390 L900,510 L1000,540 M610,410 L890,530"/>
<path d="M570,520 L640,500 L720,470 L760,490 L740,520 L700,510"/>
<path d="M330,440 C320,470 330,490 350,485"/>
<path d="M340,530 L400,545 L395,570 L335,555 Z"/>
</g>
<g transform="translate(320,165) scale(0.2)">
<!-- lines behind -->
<path d="M130,60 L170,50 L300,110 L420,170"/>
<path d="M250,0 L330,60 L400,95"/>
<path d="M100,130 L140,120 L150,180 L130,300 L60,390"/>
<path d="M0,160 L60,165 L70,230 L40,240"/>
<path d="M320,145 L440,150"/>
<path d="M330,330 L420,320 L440,385"/>
<!-- bracket -->
<path d="M400,90 L440,86 L442,130 L405,132 Z"/>
<path d="M440,100 L580,116 L580,136 L556,134 L552,116"/>
<path d="M480,135 L480,200"/>
<!-- cylinders -->
<path class="w" d="M150,245 C160,232 180,228 195,236 L320,150 L350,190 L200,308 C185,318 160,310 150,295 Z"/>
<ellipse cx="172" cy="275" rx="26" ry="36" transform="rotate(-25 172 275)" style="stroke-width:1.5"/>
<circle cx="167" cy="284" r="10"/>
<path class="w" d="M222,288 C235,270 258,268 272,275 L445,150 L482,205 L275,350 C255,360 230,350 222,335 Z"/>
<ellipse cx="246" cy="316" rx="28" ry="38" transform="rotate(-25 246 316)" style="stroke-width:1.5"/>
<circle cx="240" cy="326" r="10"/>
<!-- main pipe -->
<path class="w" d="M560,130 C620,140 690,165 715,185 C722,200 712,212 700,218 L600,285 C560,315 520,355 500,395 C470,445 440,520 390,630 L350,728 L310,735 L325,700 C360,600 400,470 440,385 C480,320 540,265 590,230 L645,190 C625,178 590,165 545,160 Z" style="stroke-width:1.1"/>
<!-- sensor -->
<path class="w" d="M465,210 L490,195 L545,200 L570,222 L560,246 L520,260 L490,250 Z" style="stroke-width:2"/>
<path d="M500,205 L512,250 M530,203 L540,248" style="stroke-width:1.6"/>
<!-- bosses -->
<path class="w" d="M690,258 L740,268 C770,280 782,310 770,332 C760,345 740,345 725,335 L680,310 Z"/>
<ellipse cx="748" cy="306" rx="23" ry="32" transform="rotate(-15 748 306)"/>
<circle cx="750" cy="308" r="9"/>
<circle class="w" cx="665" cy="280" r="22" style="stroke-width:1.5"/>
<circle cx="665" cy="280" r="9"/>
<path d="M642,300 L520,360 M655,332 L540,382"/>
<circle cx="520" cy="390" r="18"/>
<circle cx="522" cy="392" r="8"/>
<path d="M700,330 L690,460 L715,470 L745,342"/>
</g>
<g transform="translate(340,230) scale(0.2)">
<path d="M440,20 L600,0 L650,10"/>
<path d="M440,90 L600,30"/>
<path d="M520,100 L610,40 L640,20 L650,60 L640,130"/>
<path d="M400,70 L405,110 L440,125 L470,110"/>
<path class="w" d="M455,180 C460,140 500,110 535,116 C565,125 580,170 575,230 C570,262 540,282 500,280 C470,275 452,230 455,180 Z"/>
<ellipse cx="506" cy="214" rx="34" ry="48" transform="rotate(12 506 214)"/>
<path d="M470,150 C490,130 520,125 540,135"/>
<circle class="w" cx="430" cy="222" r="14"/>
<circle cx="431" cy="223" r="6"/>
<circle cx="568" cy="238" r="11"/>
<path d="M330,180 L400,200 L412,262 L340,250 Z"/>
<path d="M400,200 L420,190 L430,208"/>
<path d="M310,250 L330,280 L400,300 L420,340 L400,360 L340,340 L320,300 Z"/>
<path d="M330,360 L400,380 L420,420 L410,470 L400,500"/>
<path d="M340,370 L340,420 L400,440"/>
<path d="M340,300 L350,322 L385,330" style="stroke-width:1.6"/>
<path d="M440,300 L445,325 L475,330" style="stroke-width:1.6"/>
<path d="M420,340 L470,300 L520,290"/>
<path d="M405,490 L408,525 L430,528 L432,495"/>
<path d="M285,445 L288,460 L302,462 L302,448"/>
<path d="M545,465 L548,480 L560,480 L560,466"/>
<path d="M680,420 L684,435 L698,432 L696,418"/>
<path d="M240,380 L290,440 L400,490"/>
<path d="M432,495 L560,460 L580,430 L640,420"/>
<path d="M440,470 L570,440"/>
<path d="M580,430 L600,380 L620,350 L700,330"/>
<path d="M640,420 L660,380 L720,350"/>
<path d="M520,290 L500,420 L440,470"/>
<path d="M560,280 L545,400 L570,440"/>
<path d="M60,330 L100,400 L130,420 L180,400 L210,340"/>
<path d="M250,200 L240,250 L200,270"/>
<path class="t" d="M635,455 L635,625"/>
</g>
<g id="labels" style="opacity:0.999">
<text transform="translate(565.9,220.5) scale(0.68,1)" x="0" y="0">1</text>
<text transform="translate(565.9,244) scale(0.68,1)" x="0" y="0">2</text>
<text transform="translate(719.9,355) scale(0.68,1)" x="0" y="0">3</text>
<text transform="translate(719.9,377) scale(0.68,1)" x="0" y="0">4</text>
<text transform="translate(719.9,397) scale(0.68,1)" x="0" y="0">5</text>
<text transform="translate(437.4,389) scale(0.68,1)" x="0" y="0">6</text>
<text transform="translate(438.4,366) scale(0.68,1)" x="0" y="0">7</text>
<text transform="translate(308.9,496) scale(0.68,1)" x="0" y="0">8</text>
<text transform="translate(299.4,517) scale(0.68,1)" x="0" y="0">13</text>
<text transform="translate(306.4,540) scale(0.68,1)" x="0" y="0">9</text>
<text transform="translate(493.4,575.6) scale(0.68,1)" x="0" y="0">8</text>
<text transform="translate(561.0,519.6) scale(0.68,1)" x="0" y="0">14</text>
<text transform="translate(561.0,541.6) scale(0.68,1)" x="0" y="0">15</text>
<text transform="translate(290.4,355) scale(0.68,1)" x="0" y="0">11</text>
<text transform="translate(290.4,376) scale(0.68,1)" x="0" y="0">12</text>
<text transform="translate(257.4,400) scale(0.68,1)" x="0" y="0">10</text>
<text transform="translate(257.4,422.4) scale(0.68,1)" x="0" y="0">13</text>
<path class="t" d="M306,532 C290,528 281,512 281,498 C281,482 288,466 296,452"/>
<path class="t" d="M322,532 C340,530 356,520 363,504"/>
</g>
</svg>
</body></html>
